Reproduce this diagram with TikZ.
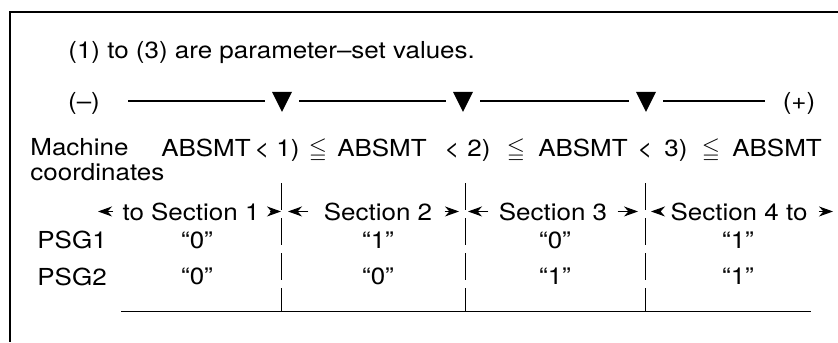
\documentclass[tikz,border=0pt]{standalone}
\usepackage{fontspec}
\usepackage{amssymb}
\setmainfont{TeX Gyre Heros}[FakeStretch=1.11]
\usetikzlibrary{arrows.meta,shapes.geometric,calc}
\begin{document}
\begin{tikzpicture}[x=0.5pt,y=-0.5pt,
  txt/.style={font=\fontsize{11.7}{14}\selectfont},
  tri/.style={isosceles triangle,isosceles triangle stretches,shape border rotate=270,
    fill=black,minimum width=10pt,minimum height=10pt,inner sep=0pt},
  secarrow/.style={line width=0.5pt,-{Stealth[length=7pt,width=5pt,inset=2.2pt]}},
  divider/.style={line width=0.5pt,dash pattern=on 13.5pt off 4pt}]
\tikzstyle{every node}+=[inner sep=0pt]
\useasboundingbox (0,0) rectangle (838,342);
\draw [black,line width=1pt] (838,12.5) -- (10,12.5) -- (10,342);
\node[txt,anchor=base west] (title) at (68,59) {(1) to (3) are parameter–set values.};
\node[txt,anchor=base] (minus) at (84,109) {(–)};
\node[txt,anchor=base] (plus) at (799,109) {(+)};
\foreach \n/\x in {1/282,2/463,3/646}
  \node[tri,anchor=apex] (t\n) at (\x,113) {};
\coordinate (r0) at (128,101);
\coordinate (r1) at (765,101);
\draw [line width=0.6pt] (r0) -- ($(t1.apex|-r0)+(-17,0)$);
\draw [line width=0.6pt] ($(t1.apex|-r0)+(17,0)$) -- ($(t2.apex|-r0)+(-17,0)$);
\draw [line width=0.6pt] ($(t2.apex|-r0)+(17,0)$) -- ($(t3.apex|-r0)+(-17,0)$);
\draw [line width=0.6pt] ($(t3.apex|-r0)+(17,0)$) -- (r1);
\node[txt,anchor=base west] (mach) at (30,155) {Machine};
\node[txt,anchor=base west] (coord) at (30,180) {coordinates};
\foreach \n/\x/\s in {1/206/ABSMT,2/382/ABSMT,3/583/ABSMT,4/777/ABSMT,
  5/262/<,6/452/<,7/645/<,8/288/1),9/479/2),10/676/3),
  11/318/$\leqq$,12/516/$\leqq$,13/711/$\leqq$}
  \node[txt,anchor=base] (ab\n) at (\x,156) {\s};
\foreach \n/\x in {1/281,2/465,3/645} {
  \coordinate (d\n) at (\x,183);
  \coordinate (e\n) at (\x,311);
  \draw [divider] (d\n) -- (e\n);
}
\coordinate (b0) at (121,311);
\coordinate (b1) at (811,311);
\draw [line width=0.5pt] (b0) -- (b1);
\node[txt,anchor=base] (s1) at (191,220) {to Section 1};
\node[txt,anchor=base] (s2) at (378,220) {Section 2};
\node[txt,anchor=base] (s3) at (553,220) {Section 3};
\node[txt,anchor=base] (s4) at (739,220) {Section 4 to};
\foreach \n/\x in {1/98,2/288,3/468,4/651}
  \coordinate (lt\n) at (\x,210);
\foreach \n/\x in {1/281,2/459,3/638,4/833}
  \coordinate (rt\n) at (\x,210);
\foreach \n/\g/\h in {1/4.5pt/5pt,2/7.5pt/6pt,3/5pt/5pt,4/6pt/5.5pt} {
  \draw [secarrow] ([xshift=-\g]s\n.west) -- (lt\n |- s\n.west);
  \draw [secarrow] ([xshift=\h]s\n.east) -- (rt\n |- s\n.east);
}
\node[txt,anchor=base west] (psg1) at (37,248) {PSG1};
\node[txt,anchor=base west] (psg2) at (37,285) {PSG2};
\foreach \x/\p/\q [count=\i] in {197/0/0,378/1/0,555/0/1,738/1/1} {
  \node[txt,anchor=base] (pa\i) at (\x,248) {“\p”};
  \node[txt,anchor=base] (pb\i) at (\x,284) {“\q”};
}
\end{tikzpicture}
\end{document}
